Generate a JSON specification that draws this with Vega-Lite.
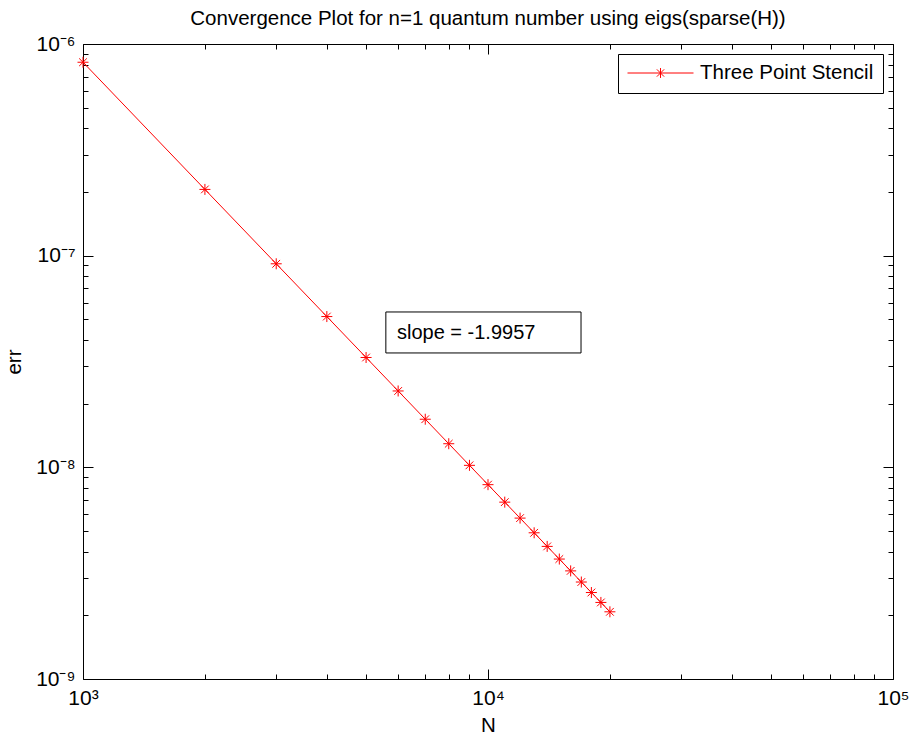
{
  "$schema": "https://vega.github.io/schema/vega-lite/v6.json",
  "autosize": "none",
  "padding": {"left": 83, "top": 44, "right": 16, "bottom": 59},
  "width": 810,
  "height": 635,
  "background": "white",
  "title": {"text": "Convergence Plot for n=1 quantum number using eigs(sparse(H))", "font": "Liberation Sans", "fontSize": 20.5, "fontWeight": "normal", "color": "black", "anchor": "middle", "offset": 4},
  "config": {
    "view": {"stroke": "black", "strokeWidth": 1},
    "font": "Liberation Sans",
    "axis": {"domain": false, "grid": false, "labelFont": "Liberation Sans", "labelFontSize": 21, "labelColor": "black", "titleFont": "Liberation Sans", "titleFontSize": 20.5, "titleFontWeight": "normal", "titleColor": "black", "tickColor": "black", "tickWidth": 1, "labelOverlap": false, "labelFlush": false, "labelBound": false}
  },
  "datasets": {
    "conv": [
      {"N": 1000, "err": 8.2e-7, "series": "Three Point Stencil"},
      {"N": 2000, "err": 2.056e-7, "series": "Three Point Stencil"},
      {"N": 3000, "err": 9.154e-8, "series": "Three Point Stencil"},
      {"N": 4000, "err": 5.156e-8, "series": "Three Point Stencil"},
      {"N": 5000, "err": 3.303e-8, "series": "Three Point Stencil"},
      {"N": 6000, "err": 2.295e-8, "series": "Three Point Stencil"},
      {"N": 7000, "err": 1.6875e-8, "series": "Three Point Stencil"},
      {"N": 8000, "err": 1.2928e-8, "series": "Three Point Stencil"},
      {"N": 9000, "err": 1.022e-8, "series": "Three Point Stencil"},
      {"N": 10000, "err": 8.282e-9, "series": "Three Point Stencil"},
      {"N": 11000, "err": 6.847e-9, "series": "Three Point Stencil"},
      {"N": 12000, "err": 5.756e-9, "series": "Three Point Stencil"},
      {"N": 13000, "err": 4.906e-9, "series": "Three Point Stencil"},
      {"N": 14000, "err": 4.231e-9, "series": "Three Point Stencil"},
      {"N": 15000, "err": 3.687e-9, "series": "Three Point Stencil"},
      {"N": 16000, "err": 3.242e-9, "series": "Three Point Stencil"},
      {"N": 17000, "err": 2.872e-9, "series": "Three Point Stencil"},
      {"N": 18000, "err": 2.562e-9, "series": "Three Point Stencil"},
      {"N": 19000, "err": 2.3e-9, "series": "Three Point Stencil"},
      {"N": 20000, "err": 2.077e-9, "series": "Three Point Stencil"}
    ],
    "note": [
      {"x": 5595, "x2": 16970, "y": 5.42e-8, "y2": 3.47e-8, "tx": 5960, "ty": 4.31e-8, "label": "slope = -1.9957"}
    ]
  },
  "resolve": {"scale": {"x": "shared", "y": "shared"}, "axis": {"x": "independent", "y": "independent"}},
  "layer": [
    {
      "data": {"name": "note"},
      "mark": {"type": "rect", "fill": "white", "stroke": "black", "strokeWidth": 1},
      "encoding": {
        "x": {"field": "x", "type": "quantitative", "scale": {"type": "log", "domain": [1000, 100000], "nice": false}, "axis": null},
        "x2": {"field": "x2"},
        "y": {"field": "y", "type": "quantitative", "scale": {"type": "log", "domain": [1e-9, 1e-6], "nice": false}, "axis": null},
        "y2": {"field": "y2"}
      }
    },
    {
      "data": {"name": "note"},
      "mark": {"type": "text", "align": "left", "baseline": "middle", "fontSize": 20, "font": "Liberation Sans", "color": "black"},
      "encoding": {
        "x": {"field": "tx", "type": "quantitative", "axis": null},
        "y": {"field": "ty", "type": "quantitative", "axis": null},
        "text": {"field": "label"}
      }
    },
    {
      "data": {"name": "conv"},
      "mark": {"type": "line", "strokeWidth": 1},
      "encoding": {
        "x": {"field": "N", "type": "quantitative", "title": "N", "axis": {"orient": "bottom", "values": [1000, 2000, 3000, 4000, 5000, 6000, 7000, 8000, 9000, 10000, 20000, 30000, 40000, 50000, 60000, 70000, 80000, 90000, 100000], "tickSize": {"condition": {"test": "abs(log(datum.value)/LN10 - round(log(datum.value)/LN10)) < 0.001", "value": -10}, "value": -5}, "labelPadding": 18, "labelExpr": "datum.value == 1000 ? '10³' : datum.value == 10000 ? '10⁴' : datum.value == 100000 ? '10⁵' : ''", "titlePadding": 2}},
        "y": {"field": "err", "type": "quantitative", "title": "err", "axis": {"orient": "left", "values": [1e-9, 2e-9, 3e-9, 4e-9, 5e-9, 6e-9, 7e-9, 8e-9, 9e-9, 1e-8, 2e-8, 3e-8, 4e-8, 5e-8, 6e-8, 7e-8, 8e-8, 9e-8, 1e-7, 2e-7, 3e-7, 4e-7, 5e-7, 6e-7, 7e-7, 8e-7, 9e-7, 1e-6], "tickSize": {"condition": {"test": "abs(log(datum.value)/LN10 - round(log(datum.value)/LN10)) < 0.001", "value": -10}, "value": -5}, "labelPadding": 18, "labelExpr": "abs(log(datum.value)/LN10 - round(log(datum.value)/LN10)) < 0.001 ? (round(log(datum.value)/LN10) == -6 ? '10⁻⁶' : round(log(datum.value)/LN10) == -7 ? '10⁻⁷' : round(log(datum.value)/LN10) == -8 ? '10⁻⁸' : '10⁻⁹') : ''", "titlePadding": 11}},
        "color": {"field": "series", "type": "nominal", "scale": {"range": ["#ff0000"]}, "legend": {"title": null, "orient": "top-right", "offset": 10, "symbolType": "M-1,0H1M0,-0.15V0.15M-0.11,-0.11L0.11,0.11M-0.11,0.11L0.11,-0.11", "symbolSize": 4356, "symbolStrokeWidth": 1, "symbolStrokeColor": "#ff0000", "symbolFillColor": "transparent", "clipHeight": 20, "labelFont": "Liberation Sans", "labelFontSize": 20.5, "labelColor": "black", "labelOffset": 6, "labelLimit": 400, "padding": 9, "strokeColor": "black", "fillColor": "white", "cornerRadius": 0}}
      }
    },
    {
      "data": {"name": "conv"},
      "mark": {"type": "point", "shape": "M-1,0H1M0,-1V1M-0.7,-0.7L0.7,0.7M-0.7,0.7L0.7,-0.7", "size": 121, "filled": false, "color": "#ff0000", "strokeWidth": 1, "opacity": 1},
      "encoding": {
        "x": {"field": "N", "type": "quantitative", "axis": {"orient": "top", "values": [1000, 2000, 3000, 4000, 5000, 6000, 7000, 8000, 9000, 10000, 20000, 30000, 40000, 50000, 60000, 70000, 80000, 90000, 100000], "tickSize": {"condition": {"test": "abs(log(datum.value)/LN10 - round(log(datum.value)/LN10)) < 0.001", "value": -10}, "value": -5}, "labels": false, "title": null}},
        "y": {"field": "err", "type": "quantitative", "axis": {"orient": "right", "values": [1e-9, 2e-9, 3e-9, 4e-9, 5e-9, 6e-9, 7e-9, 8e-9, 9e-9, 1e-8, 2e-8, 3e-8, 4e-8, 5e-8, 6e-8, 7e-8, 8e-8, 9e-8, 1e-7, 2e-7, 3e-7, 4e-7, 5e-7, 6e-7, 7e-7, 8e-7, 9e-7, 1e-6], "tickSize": {"condition": {"test": "abs(log(datum.value)/LN10 - round(log(datum.value)/LN10)) < 0.001", "value": -10}, "value": -5}, "labels": false, "title": null}}
      }
    }
  ]
}
